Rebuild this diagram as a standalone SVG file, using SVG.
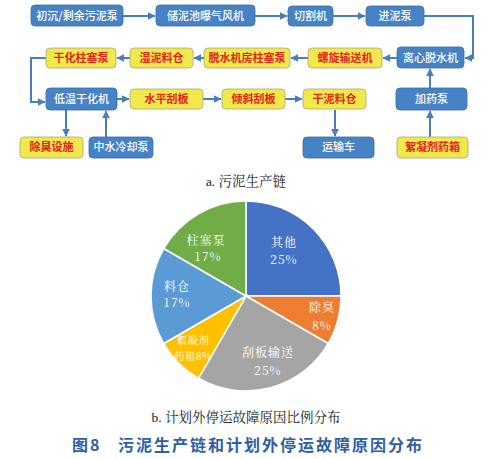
<svg xmlns="http://www.w3.org/2000/svg" width="494" height="459" viewBox="0 0 494 459">
<defs>
<marker id="ah" viewBox="0 0 6 6" refX="5.5" refY="3" markerWidth="4" markerHeight="4" orient="auto" markerUnits="strokeWidth">
<path d="M0,0 L6,3 L0,6 z" fill="#4A7EBB"/>
</marker>
</defs>
<style>
.b rect{fill:#4682C4;stroke:#3A6EA8;stroke-width:0.8}
.y rect{fill:#F1E84C;stroke:#ABA67A;stroke-width:0.8}
.b text{fill:#FFFFFF;font-family:"Noto Sans CJK SC",sans-serif;font-size:11px;font-weight:500;text-anchor:middle}
.y text{fill:#E4231D;font-family:"Noto Sans CJK SC",sans-serif;font-size:11px;font-weight:700;text-anchor:middle}
.c path{fill:none;stroke:#4A7EBB;stroke-width:2}
.ar{marker-end:url(#ah)}
.pl{fill:#FFFFFF;font-family:"Noto Serif CJK SC","Noto Sans CJK SC",serif;font-size:12px;text-anchor:middle;letter-spacing:1px}
.cap{fill:#222222;font-family:"Liberation Serif","Noto Serif CJK SC","Noto Sans CJK SC",serif;font-size:13.5px;text-anchor:middle}
.sl{stroke:#FFFFFF;stroke-width:1.5}
.t{fill:#2D5EA7;font-family:"Noto Sans CJK SC",sans-serif;font-size:16px;font-weight:700;letter-spacing:2px}
</style>

<g class="c" id="connectors">
<path class="ar" d="M123,16 H155"/>
<path class="ar" d="M255,16 H287"/>
<path class="ar" d="M333,16 H365"/>
<path class="ar" d="M424,16 H473 V58 H465"/>
<path class="ar" d="M397,58 H383"/>
<path class="ar" d="M308,58 H291"/>
<path class="ar" d="M204,58 H194"/>
<path class="ar" d="M130,58 H117"/>
<path class="ar" d="M46,58 H31 V102 H45"/>
<path class="ar" d="M117,99 H129"/>
<path class="ar" d="M203,99 H221"/>
<path class="ar" d="M285,99 H302"/>
<path class="ar" d="M430,88 V69"/>
<path class="ar" d="M430,137 V111"/>
<path class="ar" d="M66,110 V136"/>
<path class="ar" d="M106,137 V111"/>
<path class="ar" d="M335,110 V136"/>
</g>

<g id="n1" class="b"><rect x="31" y="5" width="92" height="21" rx="4"/><text x="77" y="19.5">初沉/剩余污泥泵</text></g>
<g id="n2" class="b"><rect x="156" y="5" width="99" height="21" rx="4"/><text x="205.5" y="19.5">储泥池曝气风机</text></g>
<g id="n3" class="b"><rect x="288" y="6" width="45" height="20" rx="4"/><text x="310.5" y="19.5">切割机</text></g>
<g id="n4" class="b"><rect x="366" y="6" width="58" height="20" rx="4"/><text x="395" y="19.5">进泥泵</text></g>

<g id="n5" class="b"><rect x="397" y="47" width="67" height="21" rx="4"/><text x="430.5" y="61.5">离心脱水机</text></g>
<g id="n6" class="y"><rect x="308" y="48" width="74" height="20" rx="4"/><text x="345" y="61.5">螺旋输送机</text></g>
<g id="n7" class="y"><rect x="204" y="48" width="86" height="20" rx="4"/><text x="247" y="61.5">脱水机房柱塞泵</text></g>
<g id="n8" class="y"><rect x="130" y="48" width="63" height="20" rx="4"/><text x="161.5" y="61.5">湿泥料仓</text></g>
<g id="n9" class="y"><rect x="46" y="48" width="70" height="20" rx="4"/><text x="81" y="61.5">干化柱塞泵</text></g>

<g id="n10" class="b"><rect x="46" y="88" width="71" height="22" rx="4"/><text x="81.5" y="103">低温干化机</text></g>
<g id="n11" class="y"><rect x="130" y="89" width="73" height="20" rx="4"/><text x="166.5" y="102.5">水平刮板</text></g>
<g id="n12" class="y"><rect x="222" y="89" width="63" height="20" rx="4"/><text x="253.5" y="102.5">倾斜刮板</text></g>
<g id="n13" class="y"><rect x="303" y="89" width="63" height="20" rx="4"/><text x="334.5" y="102.5">干泥料仓</text></g>
<g id="n14" class="b"><rect x="396" y="88" width="71" height="22" rx="4"/><text x="431.5" y="103">加药泵</text></g>

<g id="n15" class="y"><rect x="20" y="137" width="63" height="21" rx="4"/><text x="51.5" y="151">除臭设施</text></g>
<g id="n16" class="b"><rect x="89" y="137" width="64" height="21" rx="4"/><text x="121" y="151">中水冷却泵</text></g>
<g id="n17" class="b"><rect x="303" y="137" width="71" height="21" rx="4"/><text x="338.5" y="151">运输车</text></g>
<g id="n18" class="y"><rect x="397" y="137" width="71" height="21" rx="4"/><text x="432.5" y="151">絮凝剂药箱</text></g>

<text class="cap" x="246" y="186">a. 污泥生产链</text>

<g id="pie">
<path class="sl" fill="#4472C4" d="M246,296 L246,201 A95,95 0 0 1 341,296 Z"/>
<path class="sl" fill="#ED7D31" d="M246,296 L341,296 A95,95 0 0 1 328.27,343.5 Z"/>
<path class="sl" fill="#A5A5A5" d="M246,296 L328.27,343.5 A95,95 0 0 1 198.5,378.27 Z"/>
<path class="sl" fill="#FFC000" d="M246,296 L198.5,378.27 A95,95 0 0 1 163.73,343.5 Z"/>
<path class="sl" fill="#5B9BD5" d="M246,296 L163.73,343.5 A95,95 0 0 1 163.73,248.5 Z"/>
<path class="sl" fill="#70AD47" d="M246,296 L163.73,248.5 A95,95 0 0 1 246,201 Z"/>
<text class="pl" x="284" y="247">其他</text>
<text class="pl" x="284" y="264">25%</text>
<text class="pl" x="322" y="312">除臭</text>
<text class="pl" x="322" y="330">8%</text>
<text class="pl" x="268" y="357">刮板输送</text>
<text class="pl" x="268" y="375">25%</text>
<text class="pl" x="193" y="344" style="font-size:10.5px;letter-spacing:0.5px">絮凝剂</text>
<text class="pl" x="193" y="360" style="font-size:10.5px;letter-spacing:0.5px">药箱8%</text>
<text class="pl" x="177" y="291">料仓</text>
<text class="pl" x="177" y="307">17%</text>
<text class="pl" x="206" y="245">柱塞泵</text>
<text class="pl" x="208" y="261">17%</text>
</g>

<text class="cap" x="246" y="422">b. 计划外停运故障原因比例分布</text>
<text class="t" x="72" y="451">图8</text>
<text class="t" x="118" y="451">污泥生产链和计划外停运故障原因分布</text>
</svg>
